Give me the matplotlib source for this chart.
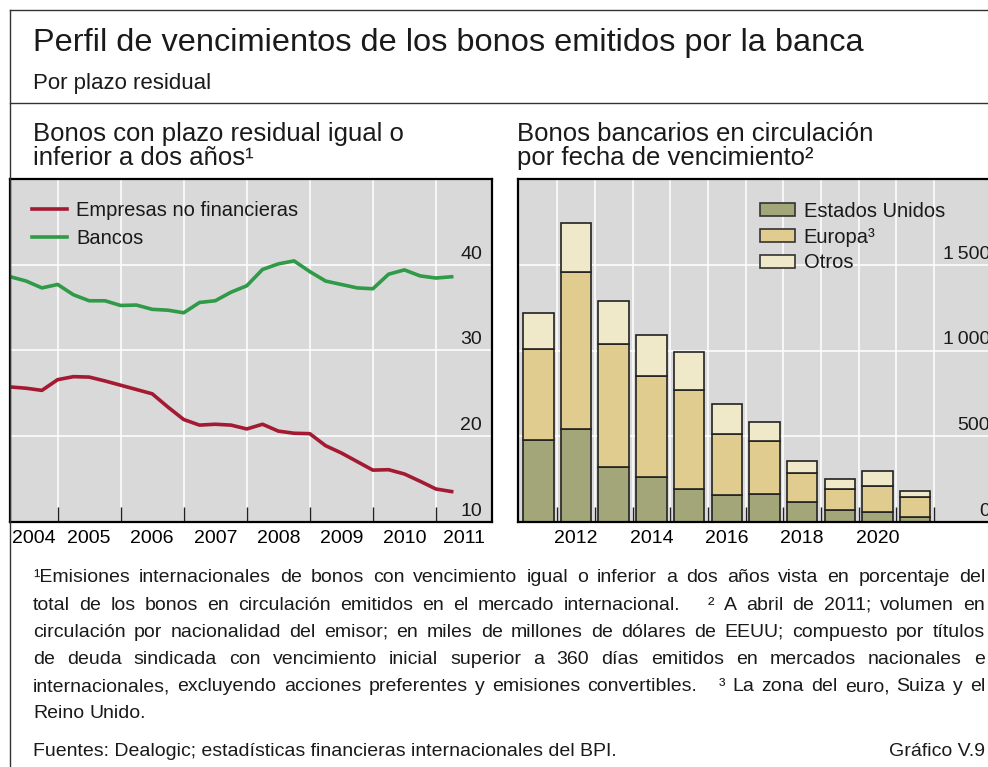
import matplotlib
matplotlib.use("Agg")
import matplotlib.pyplot as plt
from matplotlib.lines import Line2D
from matplotlib.patches import Patch
import matplotlib.transforms as mtransforms
import numpy as np

W, H, DPI = 988, 767, 100

# bonds with residual maturity of two years or less, % of total (quarterly)
quarters = np.arange(2004.25, 2011.26, 0.25)
empresas = [25.75, 25.6, 25.35, 26.6, 26.95, 26.9, 26.45, 25.95, 25.45, 24.95,
            23.4, 21.95, 21.3, 21.4, 21.3, 20.85, 21.4, 20.6, 20.35, 20.3,
            18.9, 18.05, 17.05, 16.05, 16.1, 15.6, 14.75, 13.85, 13.55]
bancos = [38.6, 38.1, 37.3, 37.7, 36.5, 35.8, 35.8, 35.25, 35.3, 34.8,
          34.7, 34.4, 35.6, 35.8, 36.8, 37.55, 39.45, 40.1, 40.45, 39.2,
          38.1, 37.7, 37.3, 37.2, 38.9, 39.4, 38.7, 38.45, 38.6]
left_yticks = [10, 20, 30, 40]
left_years = [2004, 2005, 2006, 2007, 2008, 2009, 2010, 2011]

# outstanding bank bonds by maturity year, USD bn
years = [2011, 2012, 2013, 2014, 2015, 2016, 2017, 2018, 2019, 2020, 2021]
estados_unidos = [477, 543, 323, 261, 195, 159, 165, 119, 68, 56, 29]
europa = [532, 914, 716, 591, 575, 356, 308, 165, 127, 152, 115]
otros = [209, 289, 249, 241, 220, 173, 110, 74, 58, 92, 37]
right_yticks = [0, 500, 1000, 1500]
right_ylabels = ["0", "500", "1\u2009000", "1\u2009500"]
right_xlabels = [2012, 2014, 2016, 2018, 2020]

RED = "#a31a32"
GREEN = "#2f9a47"
C_US = "#a3a678"
C_EU = "#dfcc8e"
C_OT = "#efe8c9"
BG = "#d9d9d9"
FONT = ["Liberation Sans", "DejaVu Sans"]
FS_TICK = 14
FS_LEG = 14.5

plt.rcParams["font.family"] = FONT
plt.rcParams["text.color"] = "#1a1a1a"


def fx(x):
    return x / W


def fy(y):
    return 1 - y / H


fig = plt.figure(figsize=(W / DPI, H / DPI), dpi=DPI)

# outer frame
for xs, ys in [([10, 10], [10, H]), ([10, W], [10, 10]), ([10, W], [103, 103])]:
    fig.add_artist(Line2D([fx(v) for v in xs], [fy(v) for v in ys],
                          color="#333333", lw=1.0))

fig.text(fx(33), fy(43), "Perfil de vencimientos de los bonos emitidos por la banca",
         fontsize=23.4, va="center")
fig.text(fx(33), fy(83), "Por plazo residual", fontsize=16, va="center")
fig.text(fx(33), fy(146), "Bonos con plazo residual igual o\ninferior a dos años\u00b9",
         fontsize=18.5, va="center", linespacing=1.0)
fig.text(fx(517), fy(146), "Bonos bancarios en circulación\npor fecha de vencimiento\u00b2",
         fontsize=18.5, va="center", linespacing=1.0)


def style_axes(ax):
    ax.set_facecolor(BG)
    for s in ax.spines.values():
        s.set_linewidth(1.6)
        s.set_color("black")
    ax.grid(True, color="white", lw=1.1)
    ax.set_axisbelow(True)
    ax.tick_params(axis="y", length=0, labelleft=False)
    ax.tick_params(axis="x", which="major", direction="in", length=11,
                   width=1.0, color="#222222", labelbottom=False)
    ax.tick_params(axis="x", which="minor", length=0, pad=6, labelsize=FS_TICK)


def right_labels(ax, ticks, labels):
    tr = mtransforms.blended_transform_factory(ax.transAxes, ax.transData)
    off = mtransforms.offset_copy(tr, fig=fig, x=-10, y=2, units="dots")
    for v, s in zip(ticks, labels):
        ax.text(1, v, s, transform=off, ha="right", va="bottom", fontsize=FS_TICK)


# left panel
ax1 = fig.add_axes([fx(10), fy(522), 482 / W, 343 / H])
style_axes(ax1)
ax1.plot(quarters, empresas, color=RED, lw=2.6, label="Empresas no financieras")
ax1.plot(quarters, bancos, color=GREEN, lw=2.6, label="Bancos")
x0, x1 = 2004.244, 2011.89
ax1.set_xlim(x0, x1)
ax1.set_ylim(10, 50)
ax1.set_yticks(left_yticks[1:])
ax1.set_xticks(left_years[1:])
mids = [(max(y, x0) + min(y + 1, x1)) / 2 for y in left_years]
ax1.set_xticks(mids, [str(y) for y in left_years], minor=True)
right_labels(ax1, left_yticks, [str(v) for v in left_yticks])
ax1.legend(loc="upper left", bbox_to_anchor=(0.046, 0.936), frameon=False,
           fontsize=FS_LEG, handlelength=1.73, handletextpad=0.45, labelspacing=0.44,
           borderpad=0, borderaxespad=0)

# right panel
ax2 = fig.add_axes([fx(518), fy(522), 482 / W, 343 / H])
style_axes(ax2)
bw = 0.81
kw = dict(width=bw, edgecolor="#222222", linewidth=1.2)
ax2.bar(years, estados_unidos, color=C_US, **kw)
ax2.bar(years, europa, bottom=estados_unidos, color=C_EU, **kw)
ax2.bar(years, otros, bottom=np.add(estados_unidos, europa), color=C_OT, **kw)
ax2.set_xlim(2010.46, 2023.25)
ax2.set_ylim(0, 2000)
ax2.set_yticks(right_yticks[1:])
ax2.set_xticks([y + 0.5 for y in years])
ax2.set_xticks(right_xlabels, [str(y) for y in right_xlabels], minor=True)
right_labels(ax2, right_yticks, right_ylabels)
handles = [Patch(facecolor=c, edgecolor="#333333", lw=1.2) for c in (C_US, C_EU, C_OT)]
ax2.legend(handles, ["Estados Unidos", "Europa\u00b3", "Otros"], loc="upper left",
           bbox_to_anchor=(0.502, 0.933), frameon=False, fontsize=FS_LEG,
           handlelength=1.73, handleheight=0.6, handletextpad=0.45,
           labelspacing=0.33, borderpad=0, borderaxespad=0)

# footnotes, justified between x=33 and x=985
notes = [
    "\u00b9Emisiones internacionales de bonos con vencimiento igual o inferior a dos años vista en porcentaje del",
    "total de los bonos en circulación emitidos en el mercado internacional. \u00b2 A abril de 2011; volumen en",
    "circulación por nacionalidad del emisor; en miles de millones de dólares de EEUU; compuesto por títulos",
    "de deuda sindicada con vencimiento inicial superior a 360 días emitidos en mercados nacionales e",
    "internacionales, excluyendo acciones preferentes y emisiones convertibles. \u00b3 La zona del euro, Suiza y el",
    "Reino Unido.",
]
FS_NOTE = 14
renderer = fig.canvas.get_renderer()
probe = [fig.text(0, 0, s, fontsize=FS_NOTE) for s in ("a a", "aa")]
space = probe[0].get_window_extent(renderer).width - probe[1].get_window_extent(renderer).width
for t in probe:
    t.remove()

for i, line in enumerate(notes):
    y = 578 + i * 27.2
    words = line.split(" ")
    texts = [fig.text(0, fy(y), w, fontsize=FS_NOTE, va="center") for w in words]
    widths = [t.get_window_extent(renderer).width for t in texts]
    weights = [3 if w[0] in "\u00b2\u00b3" else 1 for w in words[1:]]
    if i < len(notes) - 1:
        unit = (985 - 33 - sum(widths)) / sum(weights)
    else:
        unit = space
    x = 33
    for j, t in enumerate(texts):
        t.set_x(fx(x))
        if j < len(weights):
            x += widths[j] + unit * weights[j]

fig.text(fx(33), fy(752), "Fuentes: Dealogic; estadísticas financieras internacionales del BPI.",
         fontsize=FS_NOTE, va="center")
fig.text(fx(985), fy(752), "Gráfico V.9", fontsize=FS_NOTE, va="center", ha="right")

fig.savefig("out.png", dpi=DPI)
